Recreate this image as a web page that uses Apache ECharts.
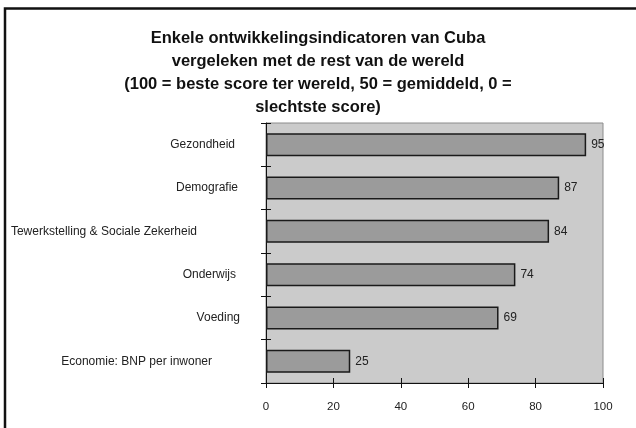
<!DOCTYPE html>
<html>
<head>
<meta charset="utf-8">
<script src="https://cdn.jsdelivr.net/npm/echarts@6/dist/echarts.min.js"></script>
<style>html,body{margin:0;padding:0;background:#fff}#c{width:636px;height:428px}</style>
</head>
<body>
<div id="c"></div>
<script>
var categories = ['Economie: BNP per inwoner', 'Voeding', 'Onderwijs', 'Tewerkstelling & Sociale Zekerheid', 'Demografie', 'Gezondheid'];
var scores = [25, 69, 74, 84, 87, 95];
var titleText = 'Enkele ontwikkelingsindicatoren van Cuba\nvergeleken met de rest van de wereld\n(100 = beste score ter wereld, 50 = gemiddeld, 0 =\nslechtste score)';

var chart = echarts.init(document.getElementById('c'), null, {renderer: 'canvas'});
var font = 'Liberation Sans, Arial, sans-serif';
var labelPad = {'Economie: BNP per inwoner': 28, 'Voeding': 0, 'Onderwijs': 4, 'Tewerkstelling & Sociale Zekerheid': 43, 'Demografie': 2, 'Gezondheid': 5};
var rich = {};
var idx = 0;
var keyOf = {};
Object.keys(labelPad).forEach(function (k) {
  var key = 'p' + (idx++);
  keyOf[k] = key;
  rich[key] = {fontFamily: font, fontSize: 12, color: '#222', padding: [0, labelPad[k], 0, 0]};
});
chart.setOption({
  backgroundColor: '#fff',
  animation: false,
  title: {
    text: titleText,
    left: 'center',
    top: 22,
    textStyle: {fontFamily: font, fontSize: 16.5, fontWeight: 'bold', color: '#111', lineHeight: 23}
  },
  graphic: [{
    type: 'rect', shape: {x: 5, y: 8.5, width: 700, height: 500},
    style: {fill: 'none', stroke: '#111', lineWidth: 2.5}, silent: true
  }],
  grid: {left: 266, right: 33, top: 123, bottom: 45, show: true, backgroundColor: '#cbcbcb', borderColor: '#8c8c8c', borderWidth: 1},
  xAxis: [{
    type: 'value', min: 0, max: 100, interval: 20, position: 'bottom',
    axisLine: {show: true, lineStyle: {color: '#111', width: 1}},
    axisTick: {show: true, length: 5, lineStyle: {color: '#111'}},
    splitLine: {show: false},
    axisLabel: {fontFamily: font, fontSize: 11.5, color: '#222', margin: 18}
  }, {
    type: 'value', min: 0, max: 100, interval: 20, position: 'bottom',
    axisLine: {show: false},
    axisTick: {show: true, inside: true, length: 5, lineStyle: {color: '#111'}},
    splitLine: {show: false},
    axisLabel: {show: false}
  }],
  yAxis: [{
    type: 'category', data: categories,
    axisLine: {show: true, lineStyle: {color: '#111', width: 1}},
    axisTick: {show: true, length: 5, lineStyle: {color: '#111'}},
    axisLabel: {
      fontFamily: font, fontSize: 12, color: '#222', margin: 26,
      formatter: function (v) { return '{' + keyOf[v] + '|' + v + '}'; },
      rich: rich
    }
  }, {
    type: 'category', data: categories, position: 'left',
    axisLine: {show: false},
    axisTick: {show: true, inside: true, length: 5, lineStyle: {color: '#111'}},
    axisLabel: {show: false}
  }],
  series: [{
    type: 'bar', data: scores, xAxisIndex: 0, yAxisIndex: 0,
    barCategoryGap: '47%',
    itemStyle: {color: '#9b9b9b', borderColor: '#1a1a1a', borderWidth: 1.5},
    label: {show: true, position: 'right', distance: 5, fontFamily: font, fontSize: 12, color: '#222'}
  }]
});
</script>
</body>
</html>
